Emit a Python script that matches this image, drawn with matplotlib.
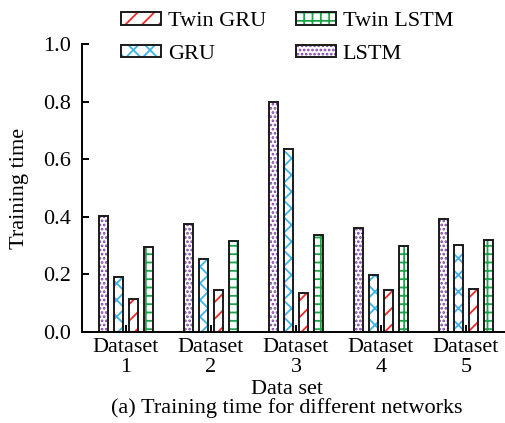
import numpy as np
import matplotlib
matplotlib.use("Agg")
import matplotlib.pyplot as plt
from matplotlib.legend_handler import HandlerTuple

plt.rcParams['font.family'] = ['Liberation Serif', 'DejaVu Serif']
plt.rcParams['font.size'] = 16
plt.rcParams['hatch.linewidth'] = 1.3

# values
datasets = ['Dataset\n1', 'Dataset\n2', 'Dataset\n3', 'Dataset\n4', 'Dataset\n5']
lstm = [0.404, 0.374, 0.797, 0.360, 0.394]
gru = [0.190, 0.253, 0.637, 0.199, 0.301]
twin_gru = [0.114, 0.146, 0.135, 0.146, 0.151]
twin_lstm = [0.294, 0.317, 0.336, 0.297, 0.321]

series = [
    ('LSTM', lstm, '#7b3fa8', '....'),
    ('GRU', gru, '#3cb4e6', 'xx'),
    ('Twin GRU', twin_gru, '#f02828', '//'),
    ('Twin LSTM', twin_lstm, '#1ea34a', '++'),
]

fig = plt.figure(figsize=(5.06, 4.23), dpi=100)
ax = fig.add_axes([82 / 506, 91 / 423, 424 / 506, 288 / 423])

x = np.arange(len(datasets))
step = 0.1765
width = 0.112
handles = {}
for i, (name, vals, col, hatch) in enumerate(series):
    pos = x + (i - 1.5) * step
    # hatch drawn in colour, outline drawn separately in black
    b1 = ax.bar(pos, vals, width, color='white', edgecolor=col, hatch=hatch, linewidth=0)
    b2 = ax.bar(pos, vals, width, color='none', edgecolor='#1a1a1a', linewidth=1.4)
    handles[name] = (b1[0], b2[0])

ax.set_xlim(-0.518, 4.47)
ax.set_ylim(0, 1.0)
ax.set_yticks([0, 0.2, 0.4, 0.6, 0.8, 1.0])
ax.set_yticklabels(['0.0', '0.2', '0.4', '0.6', '0.8', '1.0'])
ax.set_xticks(x)
ax.set_xticklabels(datasets, linespacing=1.1)
ax.tick_params(axis='y', direction='in', length=5, width=1.4, pad=8)
ax.tick_params(axis='x', direction='in', length=5, width=1.4, pad=4)
for s in ['top', 'right']:
    ax.spines[s].set_visible(False)
for s in ['left', 'bottom']:
    ax.spines[s].set_linewidth(1.4)

ax.set_ylabel('Training time', labelpad=10)
ax.set_xlabel('Data set', labelpad=0)
ax.xaxis.set_label_coords(0.483, -0.165)

order = ['Twin GRU', 'GRU', 'Twin LSTM', 'LSTM']
ax.legend([handles[n] for n in order], order, ncol=2, frameon=False,
          handler_map={tuple: HandlerTuple(ndivide=1)},
          loc='upper left', bbox_to_anchor=(121 / 506, 1 - 12 / 423), bbox_transform=fig.transFigure,
          borderpad=0, borderaxespad=0, handlelength=1.8, handleheight=0.5,
          handletextpad=0.3, columnspacing=1.35, labelspacing=0.6)

fig.text(0.566, 0.012, '(a) Training time for different networks', ha='center', va='bottom')

fig.savefig('out.png', dpi=100)
